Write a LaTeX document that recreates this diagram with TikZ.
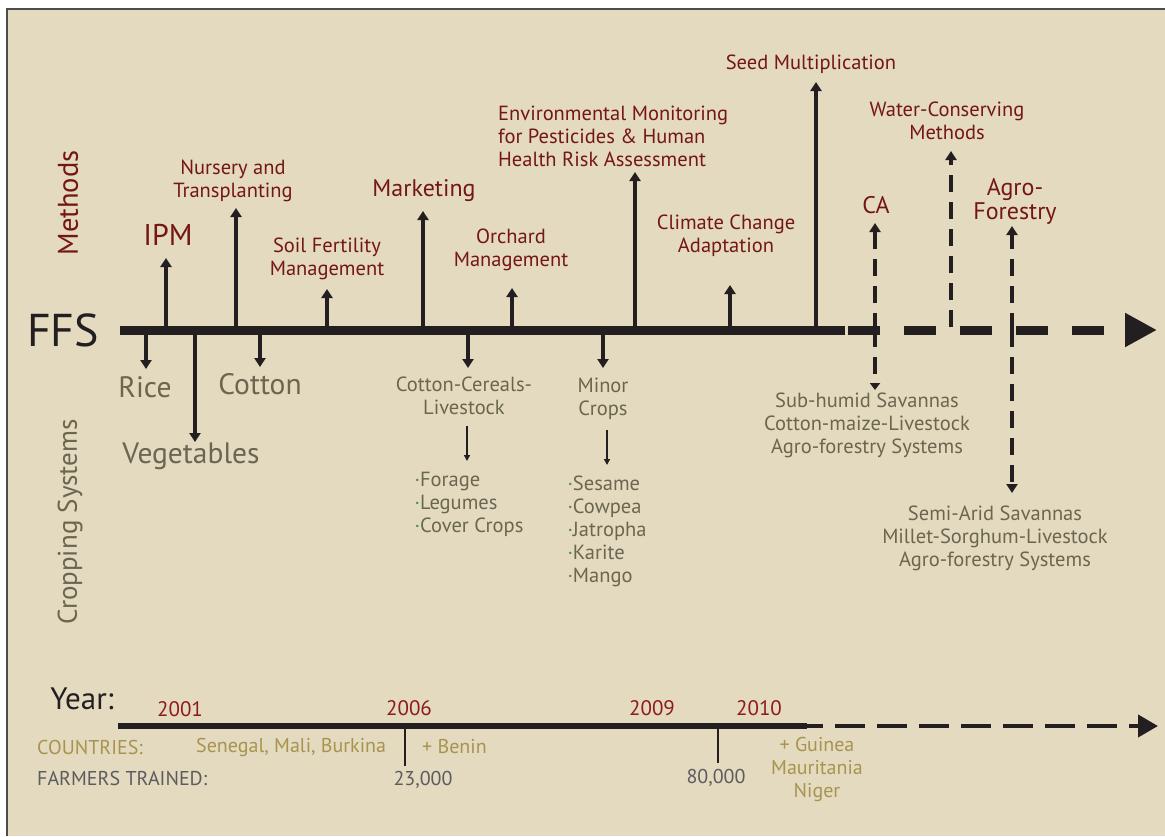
\documentclass[tikz,border=0pt]{standalone}
\usepackage{fontspec}
\setmainfont{PT Sans}
\usetikzlibrary{arrows.meta}
\definecolor{bg}{HTML}{E3DAC0}
\definecolor{mred}{HTML}{751616}
\definecolor{yred}{HTML}{8E1B1B}
\definecolor{olive}{HTML}{6B6650}
\definecolor{ink}{HTML}{231F20}
\definecolor{gold}{HTML}{A8934F}
\definecolor{fgray}{HTML}{5C5C5E}
\definecolor{bgreen}{HTML}{4F8A4A}
\newcommand{\bl}{{\color{bgreen}·}}
\begin{document}
\begin{tikzpicture}[x=1pt,y=-1pt,
  meth/.style={text=mred, font=\fontsize{20.5}{23}\selectfont, align=center, inner sep=0pt},
  methbig/.style={meth, font=\fontsize{24}{24}\selectfont},
  crop/.style={text=olive, font=\fontsize{20.5}{23}\selectfont, align=center, inner sep=0pt},
  cropbig/.style={crop, font=\fontsize{29.5}{29.5}\selectfont},
  uparr/.style={draw=ink, line width=4pt, -{Triangle[length=9pt,width=11pt]}},
  darr/.style={draw=ink, line width=4pt, dash pattern=on 17pt off 10pt, -{Triangle[length=9pt,width=11pt]}},
  thinarr/.style={draw=ink, line width=1.5pt, -{Triangle[length=6pt,width=6pt]}},
  yearlbl/.style={text=yred, font=\fontsize{21}{21}\selectfont, inner sep=0pt},
  infolbl/.style={font=\fontsize{20}{23}\selectfont, inner sep=0pt}
]
\useasboundingbox (0,0) rectangle (1165,836);
\fill[white] (0,0) rectangle (1165,836);
\fill[bg] (8,9) rectangle (1165,836);
\draw[draw=black!70, line width=2pt] (7,836) -- (7,9) -- (1165,9);

% side labels
\node[inner sep=0pt, text=ink, font=\fontsize{46}{46}\selectfont] (ffs) at (63,330) {FFS};
\node[inner sep=0pt, text=mred, font=\fontsize{28.5}{28.5}\selectfont, rotate=90] (methods) at (68,203) {Methods};
\node[inner sep=0pt, text=olive, font=\fontsize{27}{27}\selectfont, rotate=90] (cropsys) at (70,522) {Cropping Systems};

% main axis
\coordinate (axL) at (120,330);
\coordinate (axM) at (845,330);
\coordinate (axR) at (1157,330);
\draw[draw=ink, line width=9pt] (axL) -- (axM);
\draw[draw=ink, line width=9pt, dash pattern=on 32pt off 24pt, dash phase=-3pt, -{Triangle[length=32pt,width=32pt]}] (axM) -- (axR);

% method labels
\node[meth, font=\fontsize{30}{30}\selectfont] (ipm) at (168,235) {IPM};
\node[meth] (nurs) at (233,181) {Nursery and\\Transplanting};
\node[meth] (soil) at (327,259) {Soil Fertility\\Management};
\node[methbig] (mkt) at (424,191) {Marketing};
\node[meth] (orch) at (511,250) {Orchard\\Management};
\node[meth, align=left, anchor=west] (env) at (498,136) {Environmental Monitoring\\for Pesticides \& Human\\Health Risk Assessment};
\node[meth] (clim) at (726,236) {Climate Change\\Adaptation};
\node[meth] (seed) at (811,64) {Seed Multiplication};
\node[methbig] (ca) at (876,205) {CA};
\node[meth] (water) at (947,121) {Water-Conserving\\Methods};
\node[methbig] (agro) at (1015,201) {Agro-\\Forestry};

% up arrows
\coordinate (ipmB) at (166,330);  \coordinate (ipmT) at (166,258);
\coordinate (nursB) at (236,330); \coordinate (nursT) at (236,208);
\coordinate (soilB) at (327,330); \coordinate (soilT) at (327,289);
\coordinate (mktB) at (423,330);  \coordinate (mktT) at (423,211);
\coordinate (orchB) at (512,330); \coordinate (orchT) at (512,288);
\coordinate (envB) at (635,330);  \coordinate (envT) at (635,172);
\coordinate (climB) at (730,330); \coordinate (climT) at (730,285);
\coordinate (seedB) at (816,330); \coordinate (seedT) at (816,82);
\draw[uparr] (ipmB) -- (ipmT);
\draw[uparr] (nursB) -- (nursT);
\draw[uparr] (soilB) -- (soilT);
\draw[uparr] (mktB) -- (mktT);
\draw[uparr] (orchB) -- (orchT);
\draw[uparr] (envB) -- (envT);
\draw[uparr] (climB) -- (climT);
\draw[uparr] (seedB) -- (seedT);

% dashed verticals
\coordinate (caB) at (875,330);  \coordinate (caT) at (875,223); \coordinate (caD) at (875,390);
\coordinate (watB) at (951,327); \coordinate (watT) at (951,151);
\coordinate (agB) at (1012,330); \coordinate (agT) at (1012,226); \coordinate (agD) at (1012,493);
\draw[darr] (caB) -- (caT);
\draw[darr, -{Triangle[length=7pt,width=10pt]}] (caB) -- (caD);
\draw[darr] (watB) -- (watT);
\draw[darr] (agB) -- (agT);
\draw[darr] (agB) -- (agD);

% cropping labels
\node[cropbig] (rice) at (145,387) {Rice};
\node[cropbig] (veg) at (191,456) {Vegetables};
\node[cropbig] (cotton) at (260,384) {Cotton};
\node[crop] (ccl) at (464,396) {Cotton-Cereals-\\Livestock};
\node[crop] (minor) at (603,399) {Minor\\Crops};
\node[crop, align=left] (ccllist) at (469,504) {\bl Forage\\\bl Legumes\\\bl Cover Crops};
\node[crop, align=left] (minlist) at (607,531) {\bl Sesame\\\bl Cowpea\\\bl Jatropha\\\bl Karite\\\bl Mango};
\node[crop] (subh) at (867,425) {Sub-humid Savannas\\Cotton-maize-Livestock\\Agro-forestry Systems};
\node[crop] (semi) at (995,538) {Semi-Arid Savannas\\Millet-Sorghum-Livestock\\Agro-forestry Systems};

% down arrows
\coordinate (riceB) at (146,330); \coordinate (riceT) at (146,369);
\coordinate (vegB) at (195,330);  \coordinate (vegT) at (195,442);
\coordinate (cotB) at (260,330);  \coordinate (cotT) at (260,367);
\coordinate (cclB) at (468,330);  \coordinate (cclT) at (468,368);
\coordinate (minB) at (603,330);  \coordinate (minT) at (603,368);
\draw[uparr] (riceB) -- (riceT);
\draw[uparr] (vegB) -- (vegT);
\draw[uparr] (cotB) -- (cotT);
\draw[uparr] (cclB) -- (cclT);
\draw[uparr] (minB) -- (minT);
\coordinate (c1) at (467,426); \coordinate (c2) at (467,461);
\coordinate (m1) at (607,430); \coordinate (m2) at (607,465);
\draw[thinarr] (c1) -- (c2);
\draw[thinarr] (m1) -- (m2);

% bottom timeline
\node[inner sep=0pt, text=ink, font=\fontsize{31}{31}\selectfont] (year) at (82,699) {Year:};
\coordinate (tlL) at (118,726);
\coordinate (tlM) at (807,726);
\coordinate (tlR) at (1158,726);
\draw[draw=ink, line width=6pt] (tlL) -- (tlM);
\draw[draw=ink, line width=4pt, dash pattern=on 30pt off 12pt, dash phase=14pt, -{Triangle[length=20pt,width=22pt]}] (tlM) -- (tlR);
\node[yearlbl] (y2001) at (180,709) {2001};
\node[yearlbl] (y2006) at (409,708) {2006};
\node[yearlbl] (y2009) at (652,708) {2009};
\node[yearlbl] (y2010) at (759,708) {2010};
\coordinate (t1a) at (405,726); \coordinate (t1b) at (405,766);
\coordinate (t2a) at (718,726); \coordinate (t2b) at (718,763);
\draw[draw=ink, line width=2pt] (t1a) -- (t1b);
\draw[draw=ink, line width=2pt] (t2a) -- (t2b);
\node[infolbl, text=gold, anchor=west] (countries) at (37,747) {COUNTRIES:};
\node[infolbl, text=gold, anchor=west] (sen) at (196,747) {Senegal, Mali, Burkina};
\node[infolbl, text=gold, anchor=west] (benin) at (422,747) {+ Benin};
\node[infolbl, text=gold, align=center] (guin) at (817,769) {+ Guinea\\Mauritania\\Niger};
\node[infolbl, text=fgray, anchor=west] (farm) at (37,778) {FARMERS TRAINED:};
\node[infolbl, text=fgray] (n23) at (423,780) {23,000};
\node[infolbl, text=fgray] (n80) at (716,778) {80,000};
\end{tikzpicture}
\end{document}
